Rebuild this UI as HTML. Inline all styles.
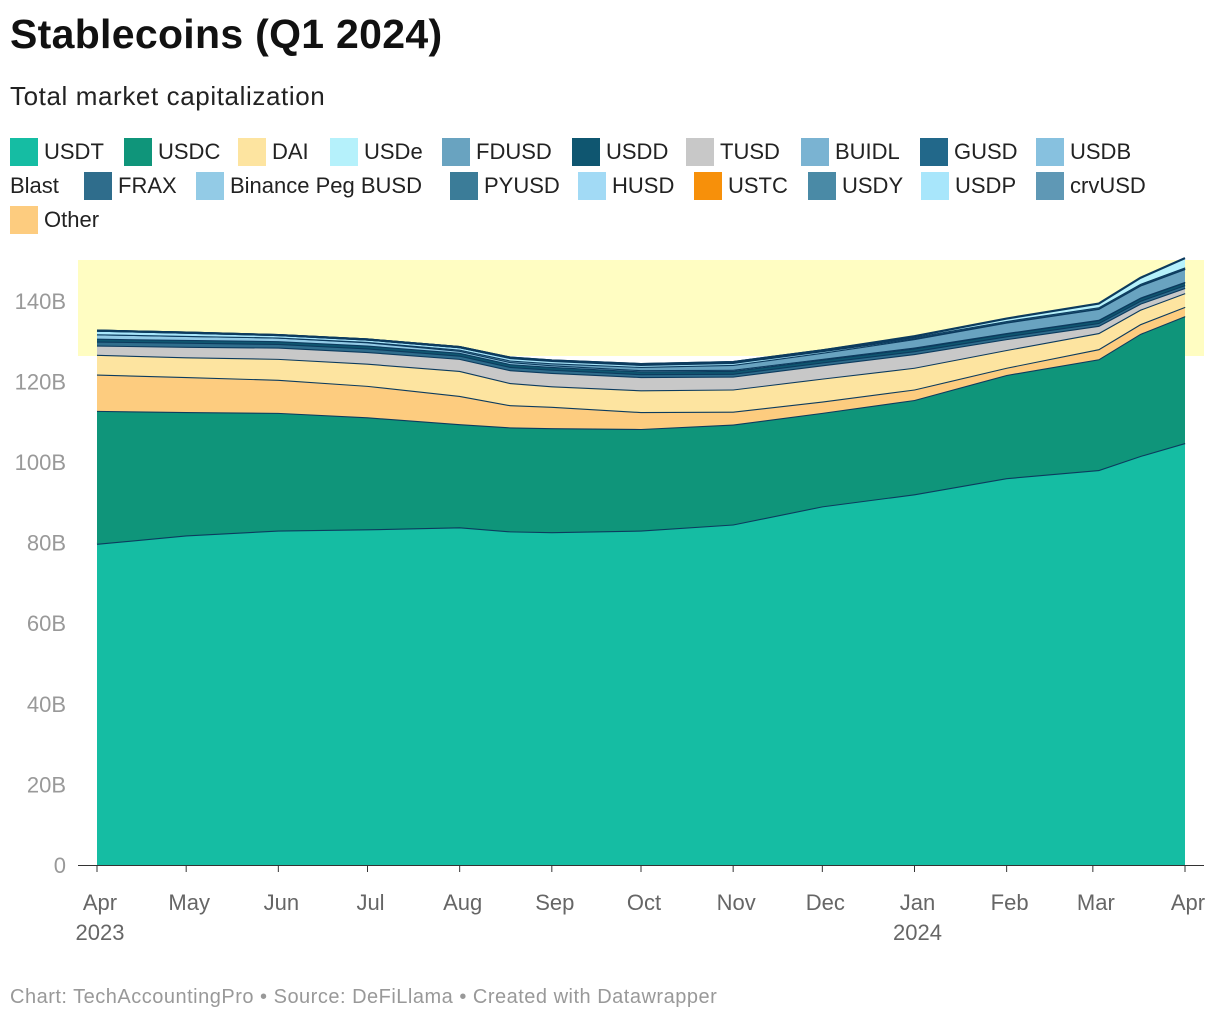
<!DOCTYPE html>
<html><head><meta charset="utf-8"><style>
body{margin:0;width:1220px;height:1022px;background:#fff;font-family:"Liberation Sans",sans-serif;position:relative;overflow:hidden}
.a{position:absolute;white-space:nowrap}
.sw{position:absolute;width:28px;height:28px}
.lt{position:absolute;font-size:22px;color:#222;line-height:28px}
</style></head><body>
<div class="a" style="left:10px;top:11px;font-size:41px;font-weight:bold;color:#111;letter-spacing:0.3px">Stablecoins (Q1 2024)</div>
<div class="a" style="left:10px;top:81px;font-size:26px;color:#222;letter-spacing:0.6px">Total market capitalization</div>
<div id="legend"></div>
<svg id="chart" class="a" style="left:0;top:0" width="1220" height="1022"></svg>
<div class="a" style="left:10px;top:986px;font-size:20px;color:#999;letter-spacing:0.5px">Chart: TechAccountingPro • Source: DeFiLlama • Created with Datawrapper</div>
<script>
const days=[0,30,61,91,122,139,153,183,214,244,275,306,337,351,366];
const usdt=[79.7,81.8,83,83.3,83.8,82.8,82.6,83,84.5,89,92,96,98,101.5,104.7];
const usdc=[33,30.6,29.2,27.8,25.6,25.8,25.8,25.2,24.8,23.2,23.4,25.6,27.5,30.3,31.5];
const other=[9,8.7,8.2,7.8,7,5.5,5.3,4.2,3.2,2.8,2.6,1.8,2.5,2.4,2.3];
const dai=[4.9,4.9,5.2,5.5,6.2,5.5,5.1,5.4,5.5,5.7,5.4,4.4,4,3.6,3.4];
const tusd=[2.3,2.6,2.8,2.9,3,3.2,3.3,3.3,3.2,3.3,3.4,2.7,1.8,1.5,1.3];
const frax=[1,1,0.9,0.9,0.8,0.8,0.8,0.7,0.7,0.7,0.7,0.7,0.7,0.7,0.7];
const usdd=[0.7,0.7,0.7,0.7,0.7,0.7,0.7,0.7,0.7,0.7,0.7,0.7,0.7,0.7,0.7];
const busd=[1.1,1,0.9,0.8,0.5,0.5,0.4,0.3,0.3,0.2,0.2,0.1,0.1,0.1,0.1];
const fdusd=[0,0,0,0.1,0.3,0.4,0.5,0.8,1.2,1.5,2.1,2.6,2.7,3,3.2];
const usdp=[0.9,0.8,0.6,0.6,0.6,0.6,0.6,0.5,0.5,0.4,0.2,0.1,0.1,0.1,0.1];
const pyusd=[0,0,0,0,0,0.1,0.1,0.2,0.2,0.2,0.3,0.3,0.3,0.3,0.3];
const usde=[0,0,0,0,0,0,0,0,0,0,0.2,0.6,0.9,1.5,2.3];
const yTicks=[0,20,40,60,80,100,120,140];
const yTickLabels=["0","20B","40B","60B","80B","100B","120B","140B"];
const xTickDays=[0,30,61,91,122,153,183,214,244,275,306,335,366];
const xTickLabels=["Apr","May","Jun","Jul","Aug","Sep","Oct","Nov","Dec","Jan","Feb","Mar","Apr"];
const x=d=>97+d*(1088/366);
const y=v=>865-v*4.03;
const NS="http://www.w3.org/2000/svg";
const svg=document.getElementById('chart');
function mk(t,a){const e=document.createElementNS(NS,t);for(const k in a)e.setAttribute(k,a[k]);svg.appendChild(e);return e;}
const hl=mk('rect',{x:78,y:260,width:1126,height:96,fill:'#fffdc2'});


const layers=[["usdt",usdt,"#15bda3"],["usdc",usdc,"#0f957a"],["other",other,"#fdcc7f"],["dai",dai,"#fde4a0"],["tusd",tusd,"#c8c8c8"],["frax",frax,"#2f6d8c"],["usdd",usdd,"#0f5670"],["busd",busd,"#93cbe6"],["fdusd",fdusd,"#69a3c0"],["usdp",usdp,"#a8e6fb"],["pyusd",pyusd,"#3b7c98"],["usde",usde,"#b5f1fb"]];
let base=days.map(()=>0);
layers.forEach(([n,vals,c])=>{
  const top=base.map((b,i)=>b+vals[i]);
  let d='M'+days.map((dd,i)=>x(dd)+','+y(top[i])).join('L');
  for(let i=days.length-1;i>=0;i--)d+='L'+x(days[i])+','+y(base[i]);
  d+='Z';
  const p=mk('path',{d:d,fill:c});
  
  
  const l=mk('path',{d:'M'+days.map((dd,i)=>x(dd)+','+y(top[i])).join('L'),fill:'none',stroke:'#0c3b5e','stroke-width':2.2});
  
  
  base=top;
});
yTicks.forEach((v,i)=>{
  const t=mk('text',{x:66,y:y(v)+8,'text-anchor':'end','font-size':22,fill:'#999'});
  t.textContent=yTickLabels[i];
  
  
});
const ax=mk('line',{x1:78,x2:1204,y1:865.5,y2:865.5,stroke:'#333','stroke-width':1});


xTickDays.forEach((d,i)=>{
  const tk=mk('line',{x1:x(d),x2:x(d),y1:865,y2:872,stroke:'#333'});
  
  
  const t=mk('text',{x:x(d)+3,y:910,'text-anchor':'middle','font-size':22,fill:'#666'});
  t.textContent=xTickLabels[i];
  
  
});
[[0,"2023"],[275,"2024"]].forEach(([d,s])=>{
  const t=mk('text',{x:x(d)+3,y:940,'text-anchor':'middle','font-size':22,fill:'#666'});
  t.textContent=s;
  
  
});
const leg=[["USDT","#15bda3",10,138],["USDC","#0f957a",124,138],["DAI","#fde4a0",238,138],["USDe","#b5f1fb",330,138],["FDUSD","#69a3c0",442,138],["USDD","#0f5670",572,138],["TUSD","#c8c8c8",686,138],["BUIDL","#7ab3d2",801,138],["GUSD","#22688a",920,138],["USDB","#87c1df",1036,138],["FRAX","#2f6d8c",84,172],["Binance Peg BUSD","#93cbe6",196,172],["PYUSD","#3b7c98",450,172],["HUSD","#a2daf5",578,172],["USTC","#f7900a",694,172],["USDY","#4a8aa6",808,172],["USDP","#a8e6fb",921,172],["crvUSD","#5f98b5",1036,172],["Other","#fdcc7f",10,206]];
const lg=document.getElementById('legend');
leg.forEach(([n,c,lx,ly])=>{
  const s=document.createElement('div');s.className='sw';s.style.left=lx+'px';s.style.top=ly+'px';s.style.background=c;
  
  
  lg.appendChild(s);
  const t=document.createElement('div');t.className='lt';t.style.left=(lx+34)+'px';t.style.top=ly+'px';
  t.textContent=n;
  
  
  lg.appendChild(t);
});
const b=document.createElement('div');b.className='lt';b.style.left='10px';b.style.top='172px';b.textContent='Blast';


lg.appendChild(b);
</script>
</body></html>
